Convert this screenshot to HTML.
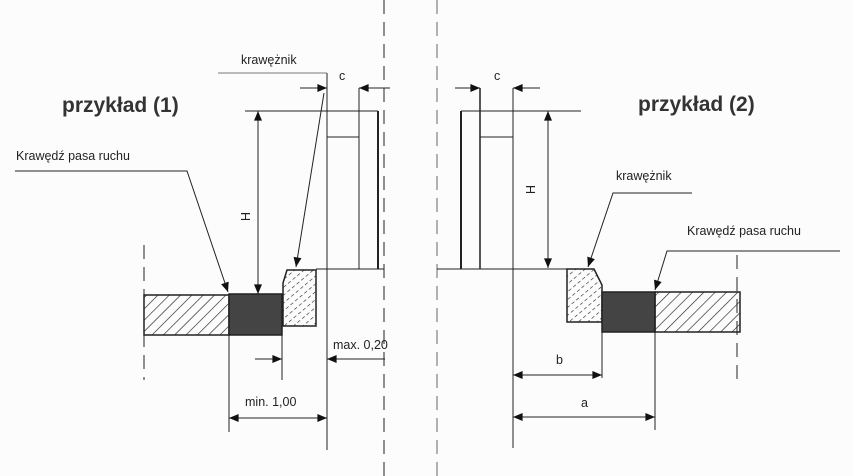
<!DOCTYPE html>
<html><head><meta charset="utf-8"><style>
html,body{margin:0;padding:0;background:#fcfcfc;}
svg{display:block}
text{font-family:"Liberation Sans",sans-serif;fill:#222}
</style></head><body>
<svg width="853" height="476" viewBox="0 0 853 476" xmlns="http://www.w3.org/2000/svg">
<defs>
<pattern id="h" width="8" height="8" patternUnits="userSpaceOnUse" patternTransform="rotate(45)">
<line x1="0" y1="0" x2="0" y2="8" stroke="#222" stroke-width="1.3"/>
</pattern>
<pattern id="h2" width="6" height="6" patternUnits="userSpaceOnUse" patternTransform="rotate(50)">
<line x1="0" y1="0" x2="0" y2="3.5" stroke="#222" stroke-width="1.2"/>
</pattern>
<marker id="a" viewBox="0 0 12 10" refX="12" refY="5" markerWidth="12" markerHeight="8" orient="auto-start-reverse" markerUnits="userSpaceOnUse">
<path d="M0,0 L12,5 L0,10 z" fill="#111"/>
</marker>
</defs>
<g stroke="#222" fill="none" stroke-width="1">
<line x1="144" y1="245" x2="144" y2="380" stroke-dasharray="14,8"/>
<line x1="384" y1="0" x2="384" y2="476" stroke-dasharray="14,8"/>
<line x1="437" y1="0" x2="437" y2="476" stroke-dasharray="14,8" stroke="#666"/>
<line x1="737" y1="255" x2="737" y2="380" stroke-dasharray="14,8"/>

<!-- LEFT -->
<rect x="144" y="295" width="85" height="40" fill="url(#h)" stroke-width="1.5"/>
<rect x="229" y="294" width="53" height="41" fill="#444" stroke-width="1.5"/>
<path d="M283,326 L283,283 L287,270 L316,270 L316,326 Z" fill="url(#h2)" stroke-width="1.5"/>
<line x1="316" y1="269" x2="384" y2="269"/>
<line x1="327" y1="73" x2="327" y2="450"/>
<line x1="218" y1="73" x2="327" y2="73" stroke="#777"/>
<line x1="245" y1="111" x2="378" y2="111"/>
<line x1="327" y1="137" x2="359" y2="137"/>
<line x1="359" y1="88" x2="359" y2="269"/>
<line x1="378" y1="111" x2="378" y2="269" stroke-width="2"/>
<line x1="300" y1="88" x2="327" y2="88" marker-end="url(#a)"/>
<line x1="390" y1="88" x2="359" y2="88" marker-end="url(#a)"/>
<line x1="258" y1="111" x2="258" y2="294" marker-start="url(#a)" marker-end="url(#a)"/>
<line x1="324" y1="93" x2="296" y2="267" marker-end="url(#a)"/>
<polyline points="15,171 187,171 228,292" marker-end="url(#a)"/>
<line x1="282" y1="335" x2="282" y2="380"/>
<line x1="229" y1="335" x2="229" y2="432"/>
<line x1="255" y1="359" x2="282" y2="359" marker-end="url(#a)"/>
<line x1="385" y1="359" x2="327" y2="359" marker-end="url(#a)"/>
<line x1="229" y1="418" x2="327" y2="418" marker-start="url(#a)" marker-end="url(#a)"/>

<!-- RIGHT -->
<line x1="437" y1="269" x2="567" y2="269"/>
<line x1="461" y1="111" x2="581" y2="111"/>
<line x1="461" y1="111" x2="461" y2="269" stroke-width="2"/>
<line x1="480" y1="88" x2="480" y2="269" stroke-width="1.5"/>
<line x1="513" y1="88" x2="513" y2="448"/>
<line x1="480" y1="137" x2="513" y2="137"/>
<line x1="455" y1="88" x2="480" y2="88" marker-end="url(#a)"/>
<line x1="540" y1="88" x2="513" y2="88" marker-end="url(#a)"/>
<line x1="548" y1="111" x2="548" y2="268" marker-start="url(#a)" marker-end="url(#a)"/>
<path d="M567,269 L594,269 L602,285 L602,322 L567,322 Z" fill="url(#h2)" stroke-width="1.5"/>
<rect x="602" y="292" width="53" height="40" fill="#444" stroke-width="1.5"/>
<rect x="655" y="292" width="85" height="40" fill="url(#h)" stroke-width="1.5"/>
<polyline points="692,193 613,193 588,267" marker-end="url(#a)"/>
<polyline points="840,251 667,251 655,290" marker-end="url(#a)"/>
<line x1="602" y1="322" x2="602" y2="378"/>
<line x1="655" y1="332" x2="655" y2="430"/>
<line x1="513" y1="375" x2="602" y2="375" marker-start="url(#a)" marker-end="url(#a)"/>
<line x1="513" y1="417" x2="655" y2="417" marker-start="url(#a)" marker-end="url(#a)"/>
</g>
<g font-size="12.5">
<text x="241" y="64">krawężnik</text>
<text x="339" y="80">c</text>
<text x="16" y="160">Krawędź pasa ruchu</text>
<text x="333" y="349">max. 0,20</text>
<text x="245" y="406">min. 1,00</text>
<text x="494" y="80">c</text>
<text x="616" y="180">krawężnik</text>
<text x="687" y="235">Krawędź pasa ruchu</text>
<text x="556" y="364">b</text>
<text x="581" y="407">a</text>
<text transform="translate(241,212) rotate(90)">H</text>
<text transform="translate(526,185) rotate(90)">H</text>
</g>
<g font-size="21" font-weight="bold" style="fill:#333">
<text x="62" y="112" style="fill:#333">przykład (1)</text>
<text x="638" y="111" style="fill:#333">przykład (2)</text>
</g>
</svg>
</body></html>
